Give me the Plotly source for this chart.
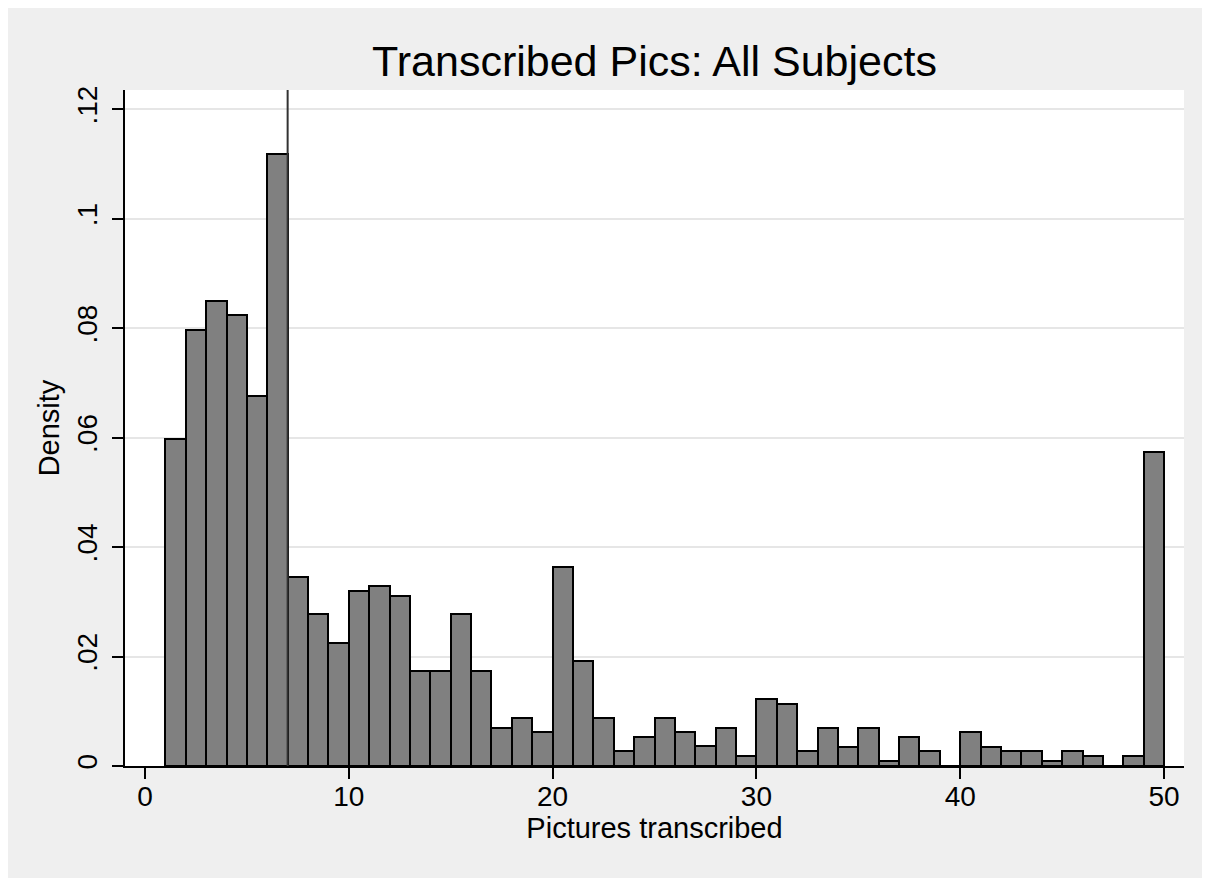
import plotly.graph_objects as go

# Histogram bins: left edges 1..49, width 1
bin_left = list(range(1, 50))
density = [
    0.0598, 0.0797, 0.0850, 0.0824, 0.0676, 0.1118, 0.0346, 0.0277, 0.0224, 0.0320,
    0.0329, 0.0311, 0.0174, 0.0174, 0.0277, 0.0174, 0.0070, 0.0087, 0.0062, 0.0364,
    0.0191, 0.0087, 0.0027, 0.0053, 0.0087, 0.0062, 0.0036, 0.0070, 0.0019, 0.0122,
    0.0114, 0.0027, 0.0070, 0.0035, 0.0070, 0.0010, 0.0053, 0.0027, 0.0000, 0.0062,
    0.0035, 0.0027, 0.0027, 0.0010, 0.0027, 0.0018, 0.0000, 0.0018, 0.0573,
]
ref_line_x = 7

x_ticks = [0, 10, 20, 30, 40, 50]
y_ticks = [0, 0.02, 0.04, 0.06, 0.08, 0.10, 0.12]
y_tick_labels = ["0", ".02", ".04", ".06", ".08", ".1", ".12"]

title_text = "Transcribed Pics: All Subjects"
x_title = "Pictures transcribed"
y_title = "Density"

FONT = "Liberation Sans, Arial, Helvetica, sans-serif"

W, H = 1210, 878
ML, MT = 117, 82
PW, PH = 1059, 676
MR, MB = W - ML - PW, H - MT - PH

centers = [b + 0.5 for b in bin_left]

fig = go.Figure()
fig.add_trace(go.Bar(
    x=centers,
    y=density,
    width=[1.0] * len(centers),
    marker=dict(color="#808080", line=dict(color="black", width=2)),
    hoverinfo="x+y",
))

fig.add_shape(type="line", xref="x", yref="paper",
              x0=ref_line_x, x1=ref_line_x, y0=0, y1=1,
              line=dict(color="#333333", width=2), layer="above")

fig.update_layout(
    width=W, height=H,
    margin=dict(l=ML, r=MR, t=MT, b=MB, pad=0),
    paper_bgcolor="#efefef",
    plot_bgcolor="white",
    showlegend=False,
    bargap=0,
    font=dict(family=FONT, color="black"),
    title=dict(text=title_text, x=(ML + PW / 2) / W, xanchor="center",
               y=1 - 53 / H, yanchor="middle", yref="container",
               font=dict(size=43, family=FONT, color="black")),
)

fig.update_xaxes(
    range=[-0.98, 50.98],
    tickvals=x_ticks,
    ticktext=[str(v) for v in x_ticks],
    showgrid=False, zeroline=False,
    showline=True, linecolor="black", linewidth=1.5,
    ticks="outside", ticklen=11, tickwidth=1.5, tickcolor="black",
    ticklabelstandoff=-6,
    tickfont=dict(size=28, family=FONT, color="black"),
    title=dict(text=x_title, font=dict(size=29, family=FONT, color="black"), standoff=3),
)
fig.update_yaxes(
    range=[0, 0.12353],
    tickvals=y_ticks,
    ticktext=y_tick_labels,
    tickangle=-90,
    showgrid=True, gridcolor="#e6e6e6", gridwidth=2,
    zeroline=False,
    showline=True, linecolor="black", linewidth=1.5,
    ticks="outside", ticklen=11, tickwidth=1.5, tickcolor="black",
    ticklabelstandoff=4,
    tickfont=dict(size=28, family=FONT, color="black"),
    title=dict(text=y_title, font=dict(size=29, family=FONT, color="black"), standoff=4),
)

fig.write_html("out.html")
